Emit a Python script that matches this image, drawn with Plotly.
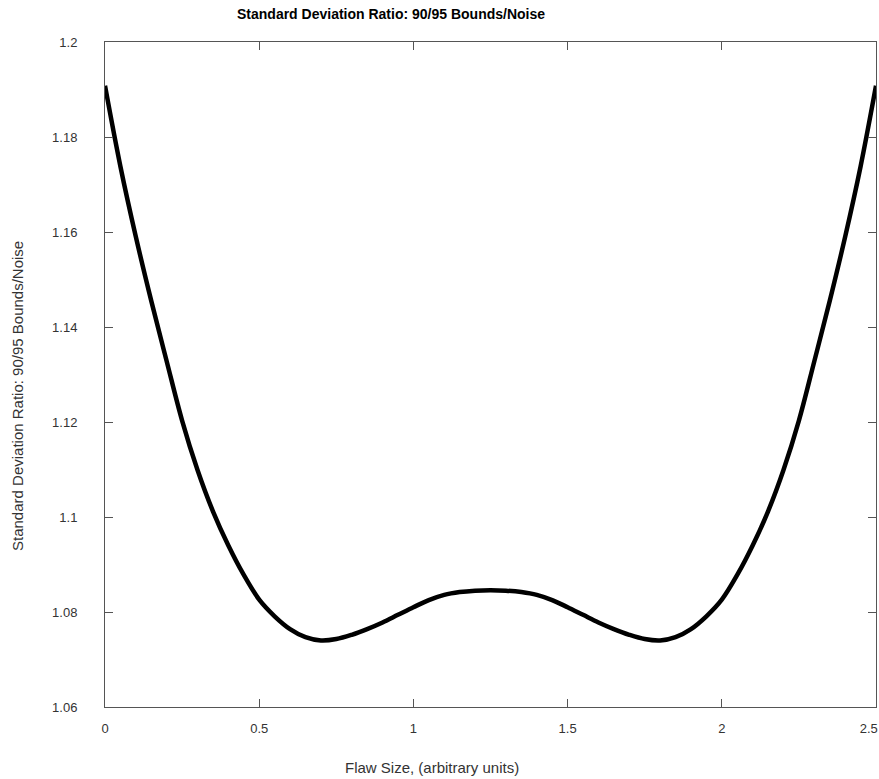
import plotly.graph_objects as go

flaw_size = [0.0, 0.05, 0.1, 0.15, 0.2, 0.25, 0.3, 0.35, 0.4, 0.45,
             0.5, 0.55, 0.6, 0.65, 0.7, 0.75, 0.8, 0.85, 0.9, 0.95,
             1.0, 1.05, 1.1, 1.15, 1.2, 1.25, 1.3, 1.35, 1.4, 1.45,
             1.5, 1.55, 1.6, 1.65, 1.7, 1.75, 1.8, 1.85, 1.9, 1.95,
             2.0, 2.05, 2.1, 2.15, 2.2, 2.25, 2.3, 2.35, 2.4, 2.45, 2.5]
sd_ratio = [1.1908, 1.1738, 1.1590, 1.1455, 1.1328, 1.1203, 1.1099, 1.1012, 1.0940, 1.0878,
            1.0826, 1.0791, 1.0764, 1.0747, 1.0740, 1.0743, 1.0752, 1.0764, 1.0778, 1.0794,
            1.0810, 1.0825, 1.0836, 1.0842, 1.0845, 1.0846, 1.0845, 1.0842, 1.0836, 1.0825,
            1.0810, 1.0794, 1.0778, 1.0764, 1.0752, 1.0743, 1.0740, 1.0747, 1.0764, 1.0791,
            1.0826, 1.0878, 1.0940, 1.1012, 1.1099, 1.1203, 1.1328, 1.1455, 1.1590, 1.1738, 1.1908]

x_ticks = [0, 0.5, 1, 1.5, 2, 2.5]
x_ticklabels = ["0", "0.5", "1", "1.5", "2", "2.5"]
y_ticks = [1.06, 1.08, 1.1, 1.12, 1.14, 1.16, 1.18, 1.2]
y_ticklabels = ["1.06", "1.08", "1.1", "1.12", "1.14", "1.16", "1.18", "1.2"]

title = "Standard Deviation Ratio: 90/95 Bounds/Noise"
x_title = "Flaw Size, (arbitrary units)"
y_title = "Standard Deviation Ratio: 90/95 Bounds/Noise"

font_family = "Liberation Sans, Arial, sans-serif"

# pad the last x label on its right so it stays inside the page edge
x_ticktext = x_ticklabels[:-1] + [x_ticklabels[-1] + "&nbsp;" * 4]

fig = go.Figure()
fig.add_trace(go.Scatter(
    x=flaw_size, y=sd_ratio, mode="lines",
    line=dict(color="black", width=4.5, shape="spline", smoothing=1.0),
    hoverinfo="skip", showlegend=False,
))

axis_common = dict(
    showgrid=False, zeroline=False, showline=True, linecolor="#555555", linewidth=1,
    mirror="ticks", ticks="inside", ticklen=8, tickcolor="#555555", tickwidth=1,
    tickfont=dict(family=font_family, size=13, color="#333333"),
    ticklabeloverflow="allow", automargin=False,
)

fig.update_layout(
    width=879, height=779,
    margin=dict(l=105, r=3, t=42, b=72),
    paper_bgcolor="white", plot_bgcolor="white",
    xaxis=dict(range=[0, 2.5], tickvals=x_ticks, ticktext=x_ticktext,
               ticklabelstandoff=9, **axis_common),
    yaxis=dict(range=[1.06, 1.2], tickvals=y_ticks, ticktext=y_ticklabels,
               ticklabelstandoff=24, **axis_common),
    annotations=[
        dict(text="<b>" + title + "</b>", xref="paper", yref="paper",
             x=(391 - 105) / 771, y=1 + (42 - 14) / 665,
             xanchor="center", yanchor="middle", showarrow=False,
             font=dict(family=font_family, size=14, color="black")),
        dict(text=x_title, xref="paper", yref="paper",
             x=(432 - 105) / 771, y=-(767 - 707) / 665,
             xanchor="center", yanchor="middle", showarrow=False,
             font=dict(family=font_family, size=15, color="#333333")),
        dict(text=y_title, xref="paper", yref="paper",
             x=-(105 - 17) / 771, y=(707 - 396) / 665, textangle=-90,
             xanchor="center", yanchor="middle", showarrow=False,
             font=dict(family=font_family, size=15, color="#333333")),
    ],
)

fig.write_html("out.html")
